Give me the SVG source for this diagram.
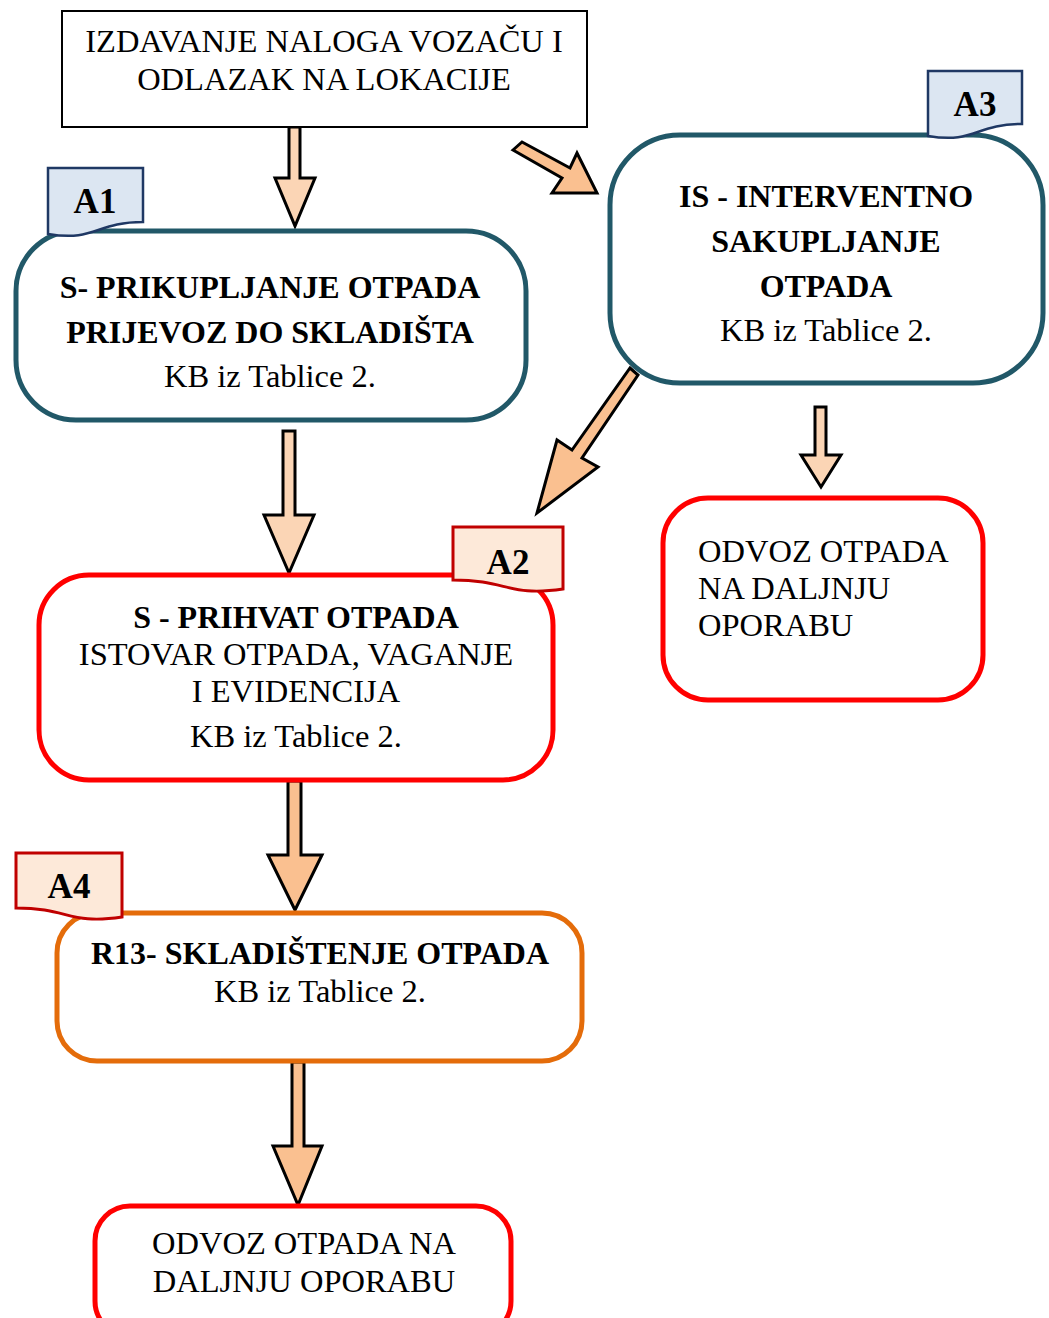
<svg xmlns="http://www.w3.org/2000/svg" width="1049" height="1318" viewBox="0 0 1049 1318">
<style>
.t{font-family:"Liberation Serif","Times New Roman",serif;font-size:32.5px;fill:#000}
.b{font-weight:bold;font-size:32px}
.c{text-anchor:middle}
.tag{font-family:"Liberation Serif","Times New Roman",serif;font-size:35px;font-weight:bold;text-anchor:middle;fill:#000}
.teal{fill:#fff;stroke:#215868;stroke-width:5}
.red{fill:#fff;stroke:#ff0000;stroke-width:5}
.org{fill:#fff;stroke:#e46c0a;stroke-width:5}
.tagb{fill:#dce6f2;stroke:#1f3864;stroke-width:2.5}
.tagr{fill:#fde9d9;stroke:#c00000;stroke-width:3}
.al{fill:#fbd5b5;stroke:#000;stroke-width:3;stroke-linejoin:miter}
.ad{fill:#fac090;stroke:#000;stroke-width:3;stroke-linejoin:miter}
</style>
<rect width="1049" height="1318" fill="#fff"/>
<g id="connectors">
<path class="al" d="M289,127 H300 V178 H315 L295,226 L275,178 H289 Z"/>
<path class="al" d="M283,431 H295 V515 H314 L289,573 L264,515 H283 Z"/>
<path class="al" d="M815,407 H826 V455 H841 L821,487 L801,455 H815 Z"/>
<path class="ad" d="M513,150 L522,142 L570,168 L577,153 L597,193 L552,193 L562,178 Z"/>
<path class="ad" d="M630,368 L638,375 L582,458 L598,467 L537,513 L557,440 L572,450 Z"/>
<path class="ad" d="M288,781 H301 V855 H322 L295,910 L268,855 H288 Z"/>
<path class="ad" d="M292,1062 H304 V1146 H322 L298,1205 L273,1146 H292 Z"/>
</g>
<g id="start">
<rect x="62" y="11" width="525" height="116" fill="#fff" stroke="#000" stroke-width="2"/>
<text class="t c" x="324" y="52">IZDAVANJE NALOGA VOZAČU I</text>
<text class="t c" x="324" y="90">ODLAZAK NA LOKACIJE</text>
</g>
<g id="node-a1">
<rect class="teal" x="16" y="231" width="510" height="189" rx="60"/>
<text class="t b c" x="270" y="298">S- PRIKUPLJANJE OTPADA</text>
<text class="t b c" x="270" y="343">PRIJEVOZ DO SKLADIŠTA</text>
<text class="t c" x="270" y="387">KB iz Tablice 2.</text>
</g>
<g id="tag-a1">
<path class="tagb" d="M48,168 H143 V222 C95.5,222 95.5,242 48,234 Z"/>
<text class="tag" x="95" y="213">A1</text>
</g>
<g id="node-a3">
<rect class="teal" x="610" y="135" width="433" height="248" rx="70"/>
<text class="t b c" x="826" y="207">IS - INTERVENTNO</text>
<text class="t b c" x="826" y="252">SAKUPLJANJE</text>
<text class="t b c" x="826" y="297">OTPADA</text>
<text class="t c" x="826" y="341">KB iz Tablice 2.</text>
</g>
<g id="tag-a3">
<path class="tagb" d="M928,71 H1022 V124 C975,124 975,144 928,136 Z"/>
<text class="tag" x="975" y="116">A3</text>
</g>
<g id="node-a2">
<rect class="red" x="39" y="575" width="514" height="205" rx="50"/>
<text class="t b c" x="296" y="628">S - PRIHVAT OTPADA</text>
<text class="t c" x="296" y="665">ISTOVAR OTPADA, VAGANJE</text>
<text class="t c" x="296" y="702">I EVIDENCIJA</text>
<text class="t c" x="296" y="747">KB iz Tablice 2.</text>
</g>
<g id="tag-a2">
<path class="tagr" d="M453,527 H563 V589 C508,597 508,580 453,580 Z"/>
<text class="tag" x="508" y="574">A2</text>
</g>
<g id="node-odvoz-right">
<rect class="red" x="663" y="498" width="320" height="202" rx="45"/>
<text class="t" x="698" y="562">ODVOZ OTPADA</text>
<text class="t" x="698" y="599">NA DALJNJU</text>
<text class="t" x="698" y="636">OPORABU</text>
</g>
<g id="node-a4">
<rect class="org" x="57" y="913" width="525" height="148" rx="40"/>
<text class="t b c" x="320" y="964">R13- SKLADIŠTENJE OTPADA</text>
<text class="t c" x="320" y="1002">KB iz Tablice 2.</text>
</g>
<g id="tag-a4">
<path class="tagr" d="M16,853 H122 V917 C69,925 69,908 16,908 Z"/>
<text class="tag" x="69" y="898">A4</text>
</g>
<g id="node-odvoz-bottom">
<rect class="red" x="95" y="1206" width="416" height="130" rx="35"/>
<text class="t c" x="304" y="1254">ODVOZ OTPADA NA</text>
<text class="t c" x="304" y="1292">DALJNJU OPORABU</text>
</g>
</svg>
